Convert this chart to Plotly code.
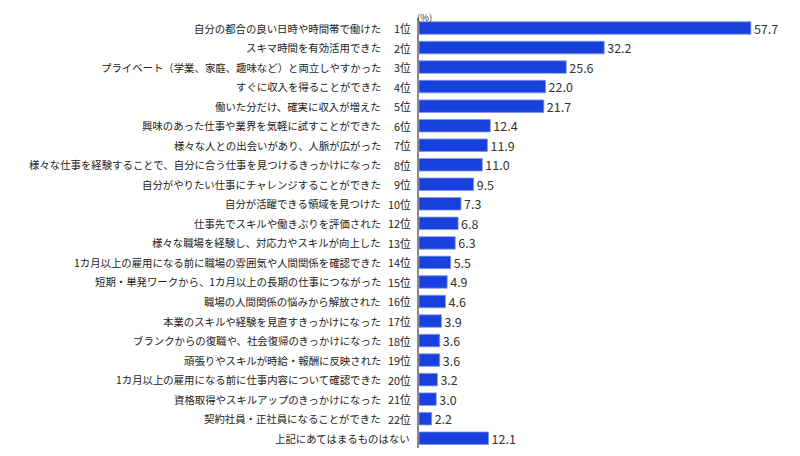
import plotly.graph_objects as go

# 回答項目（上から順）
categories = [
    "自分の都合の良い日時や時間帯で働けた",
    "スキマ時間を有効活用できた",
    "プライベート（学業、家庭、趣味など）と両立しやすかった",
    "すぐに収入を得ることができた",
    "働いた分だけ、確実に収入が増えた",
    "興味のあった仕事や業界を気軽に試すことができた",
    "様々な人との出会いがあり、人脈が広がった",
    "様々な仕事を経験することで、自分に合う仕事を見つけるきっかけになった",
    "自分がやりたい仕事にチャレンジすることができた",
    "自分が活躍できる領域を見つけた",
    "仕事先でスキルや働きぶりを評価された",
    "様々な職場を経験し、対応力やスキルが向上した",
    "1カ月以上の雇用になる前に職場の雰囲気や人間関係を確認できた",
    "短期・単発ワークから、1カ月以上の長期の仕事につながった",
    "職場の人間関係の悩みから解放された",
    "本業のスキルや経験を見直すきっかけになった",
    "ブランクからの復職や、社会復帰のきっかけになった",
    "頑張りやスキルが時給・報酬に反映された",
    "1カ月以上の雇用になる前に仕事内容について確認できた",
    "資格取得やスキルアップのきっかけになった",
    "契約社員・正社員になることができた",
    "上記にあてはまるものはない",
]
ranks = ["1位", "2位", "3位", "4位", "5位", "6位", "7位", "8位", "9位", "10位",
         "12位", "13位", "14位", "15位", "16位", "17位", "18位", "19位", "20位",
         "21位", "22位", ""]
values = [57.7, 32.2, 25.6, 22.0, 21.7, 12.4, 11.9, 11.0, 9.5, 7.3, 6.8,
          6.3, 5.5, 4.9, 4.6, 3.9, 3.6, 3.6, 3.2, 3.0, 2.2, 12.1]

FONT = "Noto Sans CJK JP"

fig = go.Figure(go.Bar(
    x=values,
    y=categories,
    orientation="h",
    marker=dict(color="#1740dd", line=dict(color="#7f96ee", width=0.8)),
    text=values,
    texttemplate="%{x:.1f}",
    textposition="outside",
    constraintext="none",
    textfont=dict(family=FONT, size=12.5, color="#333333"),
    cliponaxis=False,
    hoverinfo="skip",
))

# 項目名と順位は左側に注釈として配置
annotations = []
for cat, rk in zip(categories, ranks):
    annotations.append(dict(
        x=0, y=cat, xref="paper", yref="y", text=cat, showarrow=False,
        xanchor="right", xshift=-36 if rk else -7,
        font=dict(family=FONT, size=10.4, color="#222222"),
    ))
    if rk:
        annotations.append(dict(
            x=0, y=cat, xref="paper", yref="y", text=rk, showarrow=False,
            xanchor="right", xshift=-6,
            font=dict(family=FONT, size=10.8, color="#222222"),
        ))
annotations.append(dict(
    x=0, y=1, xref="paper", yref="paper", text="(%)", showarrow=False,
    xanchor="left", yanchor="top", xshift=-3, yshift=9,
    borderpad=0,
    font=dict(family=FONT, size=9.5, color="#333333"),
))

# ページ余白(8px)を差し引いた自動サイズに合わせた余白
fig.update_layout(
    paper_bgcolor="white", plot_bgcolor="white",
    margin=dict(l=411, r=2, t=10, b=0),
    bargap=0.36,
    showlegend=False,
    annotations=annotations,
    xaxis=dict(range=[0, 64.5], showgrid=False, zeroline=False,
               showticklabels=False, showline=False),
    yaxis=dict(autorange="reversed", showticklabels=False, showgrid=False,
               showline=True, linecolor="#888888", linewidth=1.5, ticks=""),
)

fig.write_html("out.html")
